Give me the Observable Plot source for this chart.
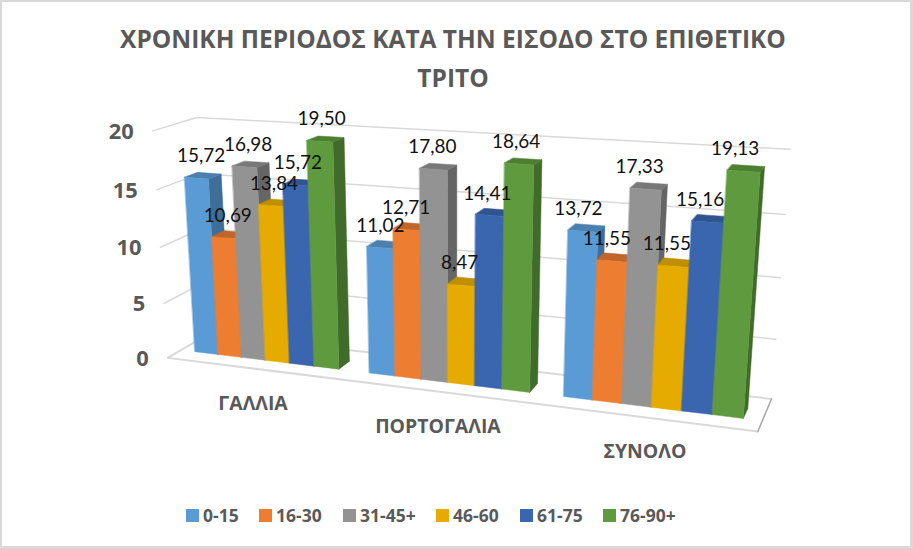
<!DOCTYPE html>
<html>
<head>
<meta charset="utf-8">
<script src="https://cdn.jsdelivr.net/npm/d3@7"></script>
<script src="https://cdn.jsdelivr.net/npm/@observablehq/plot@0.6"></script>
<style>
html,body{margin:0;padding:0;background:#fff}
#frame{position:relative;box-sizing:border-box;width:913px;height:549px;background:#fff;border:solid #d9d9d9;border-width:2px 3px 3px 2px;overflow:hidden;font-family:"Open Sans",sans-serif}
#title{position:absolute;left:0;top:0;width:100%;height:98px;box-sizing:border-box;padding:17px 6px 0 0;text-align:center;font-size:24.5px;line-height:39px;font-weight:700;color:#595959}
#chart{position:absolute;left:-2px;top:96px}
#legend{position:absolute;left:0;top:499px;width:100%;height:30px;font-size:17.5px;font-weight:700;color:#595959}
#legend span.k{position:absolute;top:8px;width:13px;height:13px}
#legend span.t{position:absolute;top:0;line-height:28px;white-space:nowrap}
svg{display:block}
</style>
</head>
<body>
<div id="frame">
<div id="title">ΧΡΟΝΙΚΗ ΠΕΡΙΟΔΟΣ ΚΑΤΑ ΤΗΝ ΕΙΣΟΔΟ ΣΤΟ ΕΠΙΘΕΤΙΚΟ<br>ΤΡΙΤΟ</div>
<div id="chart"></div>
<div id="legend"></div>
</div>
<script>
const categories = ["ΓΑΛΛΙΑ", "ΠΟΡΤΟΓΑΛΙΑ", "ΣΥΝΟΛΟ"];
const series = ["0-15", "16-30", "31-45+", "46-60", "61-75", "76-90+"];
const gallia = [15.72, 10.69, 16.98, 13.84, 15.72, 19.50];
const portogalia = [11.02, 12.71, 17.80, 8.47, 14.41, 18.64];
const synolo = [13.72, 11.55, 17.33, 11.55, 15.16, 19.13];
const valueTicks = [0, 5, 10, 15, 20];
const frontColors = ["#5b9bd5", "#ed7d31", "#939393", "#e5ab00", "#3a65af", "#5f9b3e"];
const sideColors = ["#3f6e98", "#b25d25", "#656565", "#a87e00", "#2b4a80", "#416b2a"];
const topColors = ["#4a7fb0", "#c2652a", "#787878", "#bf8f00", "#30548f", "#4d7f31"];
const rowsByCategory = [gallia, portogalia, synolo];

// perspective of the 3-D box: slot along the floor, value upward, depth backward
const slotsPerCategory = 7.2, barDepth = 1;
const sMin = -0.6, sMax = 21.0, dFront = -1.04, dBack = 2.24;
function project(s, v, d) {
  const w = 1 - 0.00712 * s - 0.00245 * v + 0.0157 * d;
  return [(195 + 21.67 * s - 1.114 * v + 15.62 * d) / w,
          (352 + 0.30 * s + (-11.565 + 0.00513 * s) * v - 2.01 * d) / w];
}
function poly(rows, id, color, pts) {
  for (const [s, v, d] of pts) {
    const [px, py] = project(s, v, d);
    rows.push({id, color, px, py});
  }
}

// bar faces, left to right
const faces = [], labels = [];
rowsByCategory.forEach((vals, c) => vals.forEach((v, i) => {
  const s0 = c * slotsPerCategory + i, s1 = s0 + 1, id = `${c}-${i}`;
  poly(faces, id + "r", sideColors[i], [[s1,0,0],[s1,0,barDepth],[s1,v,barDepth],[s1,v,0]]);
  poly(faces, id + "t", topColors[i], [[s0,v,0],[s1,v,0],[s1,v,barDepth],[s0,v,barDepth]]);
  poly(faces, id + "f", frontColors[i], [[s0,0,0],[s1,0,0],[s1,v,0],[s0,v,0]]);
  const [tx, ty] = project(s0 + 0.5, v, 0);
  labels.push({text: v.toFixed(2).replace(".", ","), px: 0.976 * tx + 9.5, py: ty});
}));

// gridlines on side and back walls
const grid = [];
for (const v of valueTicks) {
  if (v === 0) continue;
  poly(grid, "g" + v, null, [[sMin,v,dFront],[sMin,v,dBack],[sMax,v,dBack]]);
}
const floorLight = [];
poly(floorLight, "f", null, [[sMax,0,dFront],[sMin,0,dFront],[sMin,0,dBack],[sMax,0,dBack]]);
const floorRight = [];
poly(floorRight, "r", null, [[sMax,0,dBack],[sMax,0,dFront]]);

const tickRows = valueTicks.map(v => {
  const [px, py] = project(sMin, v, dFront);
  return {text: String(v), px, py};
});
const catRows = categories.map((text, c) => {
  const [px, py] = project((c + 0.417) * slotsPerCategory, 0, dFront);
  return {text, px, py};
});

const plot = Plot.plot({
  width: 913, height: 402,
  marginTop: 0, marginRight: 0, marginBottom: 0, marginLeft: 0,
  x: {type: "linear", domain: [0, 913], range: [0, 913], axis: null},
  y: {type: "linear", domain: [98, 500], range: [0, 402], axis: null},
  marks: [
    Plot.line(grid, {x: "px", y: "py", z: "id", stroke: "#d9d9d9", strokeWidth: 1.5, curve: "linear"}),
    Plot.line(floorLight, {x: "px", y: "py", z: "id", stroke: "#d9d9d9", strokeWidth: 2, curve: "linear"}),
    Plot.line(floorRight, {x: "px", y: "py", z: "id", stroke: "#a6a6a6", strokeWidth: 1.5, curve: "linear"}),
    Plot.line(faces, {x: "px", y: "py", z: "id", fill: d => d.color, stroke: d => d.color, strokeWidth: 0.5, curve: "linear-closed"}),
    Plot.text(tickRows, {x: "px", y: "py", text: "text", dx: -19, dy: 1, textAnchor: "end", fontSize: 22, fontWeight: 700, fill: "#595959", fontFamily: "Open Sans"}),
    Plot.text(catRows, {x: "px", y: "py", text: "text", dy: 35, fontSize: 19.5, fontWeight: 700, fill: "#595959", fontFamily: "Open Sans"}),
    Plot.text(labels, {x: "px", y: "py", text: "text", dy: -22, fontSize: 19, fill: "#111", fontFamily: "Lato"})
  ],
  color: {type: "identity"}
});
document.getElementById("chart").append(plot);

const legendX = [184, 257, 341, 434, 518, 601];
const legend = d3.select("#legend");
series.forEach((name, i) => {
  legend.append("span").attr("class", "k").style("left", legendX[i] + "px").style("background", frontColors[i]);
  legend.append("span").attr("class", "t").style("left", (legendX[i] + 17) + "px").text(name);
});
</script>
</body>
</html>
